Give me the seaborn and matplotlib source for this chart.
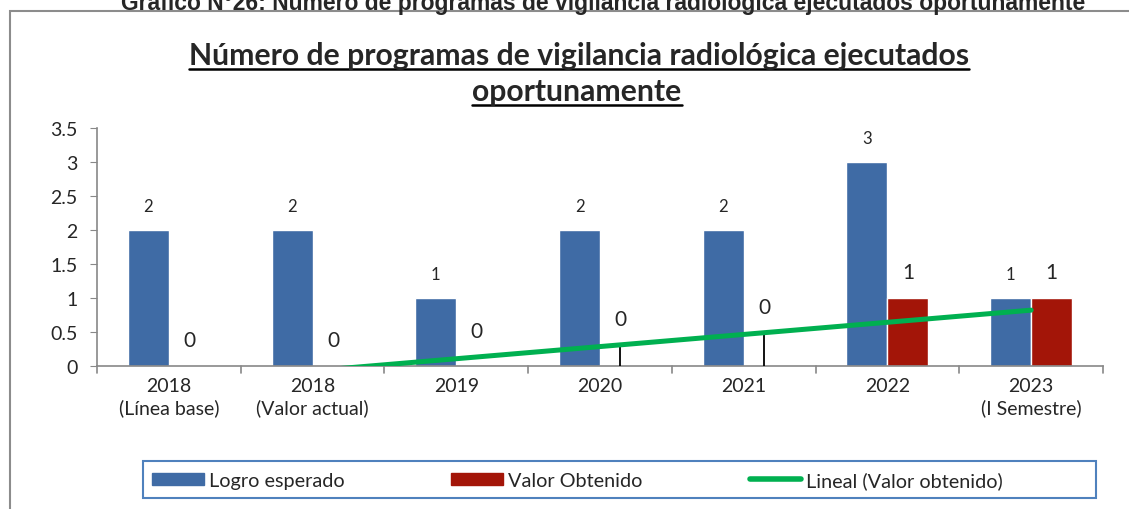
import numpy as np
import pandas as pd
import matplotlib
matplotlib.use("Agg")
import matplotlib.pyplot as plt
import seaborn as sns
from matplotlib.lines import Line2D
from matplotlib.patches import Patch, Rectangle

# data
categories = ["2018\n(Línea base)", "2018\n(Valor actual)", "2019", "2020", "2021",
              "2022", "2023\n(I Semestre)"]
logro_esperado = [2, 2, 1, 2, 2, 3, 1]
valor_obtenido = [0, 0, 0, 0, 0, 1, 1]
series_names = ["Logro esperado", "Valor Obtenido"]
yticks = [0, 0.5, 1, 1.5, 2, 2.5, 3, 3.5]
ytick_labels = ["0", "0.5", "1", "1.5", "2", "2.5", "3", "3.5"]
drop_idx = [3, 4]  # small black stems under the trend line

blue = "#3F6BA5"
red = "#A31508"
green = "#00B050"
gray = "#888888"

sns.set_style("white")
plt.rcParams["font.family"] = ["Lato", "DejaVu Sans"]

df = pd.DataFrame({
    "cat": categories * 2,
    "serie": [series_names[0]] * len(categories) + [series_names[1]] * len(categories),
    "valor": logro_esperado + valor_obtenido,
})

W, H = 1129, 510
fig = plt.figure(figsize=(W / 100, H / 100), dpi=100)
ax = fig.add_axes([97 / W, 1 - 367 / H, 1006 / W, 238 / H])

sns.barplot(data=df, x="cat", y="valor", hue="serie", palette=[blue, red],
            width=0.57, ax=ax, legend=False, saturation=1)

# linear trend of Valor obtenido
xs = np.arange(len(categories))
coef = np.polyfit(xs, valor_obtenido, 1)
xline = np.linspace(0, len(categories) - 1, 200)
ax.plot(xline, np.polyval(coef, xline), color=green, lw=3.6, solid_capstyle="round", zorder=5)

off = 0.57 / 4
for i in drop_idx:
    ax.vlines(i + off, 0, np.polyval(coef, i + off), color="black", lw=1.3, zorder=4)

# data labels
for i, v in enumerate(logro_esperado):
    ax.annotate(str(v), (i - off, v), xytext=(0, 17), textcoords="offset points",
                ha="center", va="center", fontsize=12)
for i, v in enumerate(valor_obtenido):
    base = max(v, np.polyval(coef, i + off))
    ax.annotate(str(v), (i + off, base), xytext=(0, 18.5), textcoords="offset points",
                ha="center", va="center", fontsize=15)

ax.set_ylim(0, 3.5)
ax.set_xlim(-0.5, len(categories) - 0.5)
ax.set_yticks(yticks)
ax.set_yticklabels(ytick_labels, fontsize=14)
ax.set_xticks(xs)
ax.set_xticklabels(categories, fontsize=14, linespacing=1.3)
ax.set_xlabel("")
ax.set_ylabel("")
ax.tick_params(axis="x", length=0, pad=8)
ax.tick_params(axis="y", length=5, color=gray, left=True, pad=9)
for b in np.arange(-0.5, len(categories), 1):
    ax.plot([b, b], [0, -0.1], color=gray, lw=1.2, clip_on=False)
for s in ["top", "right"]:
    ax.spines[s].set_visible(False)
for s in ["left", "bottom"]:
    ax.spines[s].set_color(gray)
    ax.spines[s].set_linewidth(1.2)

# outer frame
fig.patches.append(Rectangle((10 / W, -0.2), 1.2, 1.2 - 12 / H, transform=fig.transFigure,
                             fill=False, edgecolor="#8C8C8C", lw=1.5))

# caption at the top, cut by the page edge as in the source
fig.text(603 / W, 1 - 10 / H,
         "Gráfico N°26: Número de programas de vigilancia radiológica ejecutados oportunamente",
         ha="center", va="baseline", fontsize=16.5, fontweight="bold",
         family=["Liberation Sans", "DejaVu Sans"])

# underlined title
t1 = fig.text(579 / W, 1 - 65 / H, "Número de programas de vigilancia radiológica ejecutados",
              ha="center", va="baseline", fontsize=21.7, fontweight="bold")
t2 = fig.text(577 / W, 1 - 101 / H, "oportunamente",
              ha="center", va="baseline", fontsize=21.7, fontweight="bold")
fig.canvas.draw()
r = fig.canvas.get_renderer()
for t, yb in [(t1, 65), (t2, 101)]:
    bb = t.get_window_extent(r)
    yl = 1 - (yb + 5) / H
    fig.add_artist(Line2D([bb.x0 / W, bb.x1 / W], [yl, yl], transform=fig.transFigure,
                          color="black", lw=1.8))

# legend, with its own blue box
fig.patches.append(Rectangle((143 / W, 1 - 499 / H), (1096 - 143) / W, 37 / H,
                             transform=fig.transFigure, fill=False, edgecolor="#4F81BD", lw=1.5))
handles = [Patch(color=blue, label=series_names[0]),
           Patch(color=red, label=series_names[1]),
           Line2D([0], [0], color=green, lw=4, solid_capstyle="round", label="Lineal (Valor obtenido)")]
leg = fig.legend(handles=handles, ncol=3, loc="center left", bbox_to_anchor=(152 / W, 1 - 481 / H),
                 frameon=False, fontsize=14.3, handlelength=2.6, handleheight=0.6, handletextpad=0.25,
                 columnspacing=5.4, borderpad=0, borderaxespad=0)

fig.savefig("out.png", dpi=100)
